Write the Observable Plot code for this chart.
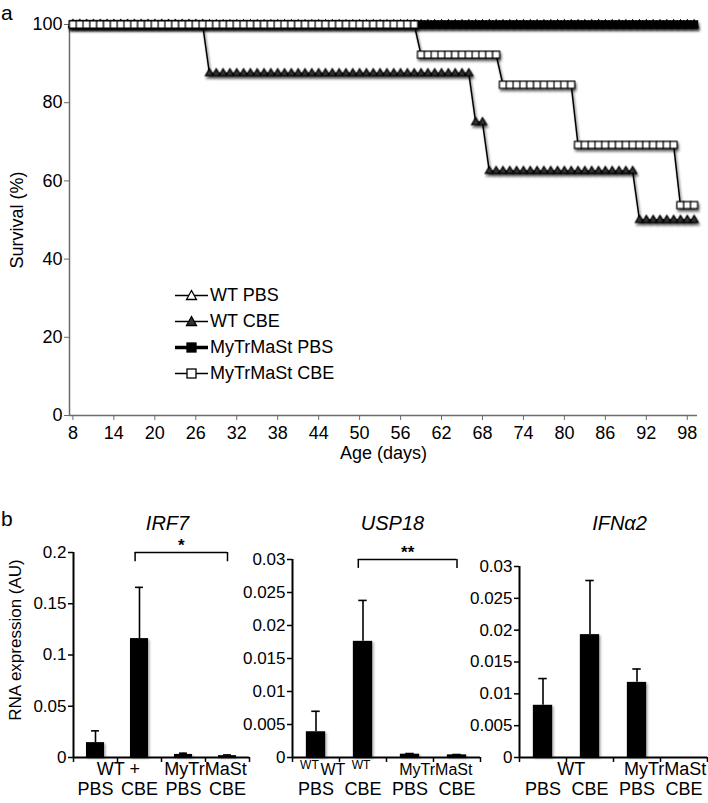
<!DOCTYPE html>
<html><head><meta charset="utf-8">
<script src="https://cdn.jsdelivr.net/npm/d3@7"></script>
<script src="https://cdn.jsdelivr.net/npm/@observablehq/plot@0.6"></script>
<style>
html,body{margin:0;padding:0;background:#fff;}
#root{position:relative;width:708px;height:803px;overflow:hidden;font-family:"Liberation Sans",Arial,Helvetica,sans-serif;color:#000;}
.abs{position:absolute;white-space:nowrap;}
</style></head><body><div id="root"></div>
<script>
const FONT = '"Liberation Sans", Arial, Helvetica, sans-serif';

// ---------- Panel a data ----------
const days = [
  8,9,10,11,12,13,14,15,16,17,
  18,19,20,21,22,23,24,25,26,27,
  28,29,30,31,32,33,34,35,36,37,
  38,39,40,41,42,43,44,45,46,47,
  48,49,50,51,52,53,54,55,56,57,
  58,59,60,61,62,63,64,65,66,67,
  68,69,70,71,72,73,74,75,76,77,
  78,79,80,81,82,83,84,85,86,87,
  88,89,90,91,92,93,94,95,96,97,
  98,99];
const wtPbs = [
  100,100,100,100,100,100,100,100,100,100,
  100,100,100,100,100,100,100,100,100,100,
  100,100,100,100,100,100,100,100,100,100,
  100,100,100,100,100,100,100,100,100,100,
  100,100,100,100,100,100,100,100,100,100,
  100,100,100,100,100,100,100,100,100,100,
  100,100,100,100,100,100,100,100,100,100,
  100,100,100,100,100,100,100,100,100,100,
  100,100,100,100,100,100,100,100,100,100,
  100,100];
const wtCbe = [
  100,100,100,100,100,100,100,100,100,100,
  100,100,100,100,100,100,100,100,100,100,
  87.5,87.5,87.5,87.5,87.5,87.5,87.5,87.5,87.5,87.5,
  87.5,87.5,87.5,87.5,87.5,87.5,87.5,87.5,87.5,87.5,
  87.5,87.5,87.5,87.5,87.5,87.5,87.5,87.5,87.5,87.5,
  87.5,87.5,87.5,87.5,87.5,87.5,87.5,87.5,87.5,75,
  75,62.5,62.5,62.5,62.5,62.5,62.5,62.5,62.5,62.5,
  62.5,62.5,62.5,62.5,62.5,62.5,62.5,62.5,62.5,62.5,
  62.5,62.5,62.5,50,50,50,50,50,50,50,
  50,50];
const mytrPbs = [
  100,100,100,100,100,100,100,100,100,100,
  100,100,100,100,100,100,100,100,100,100,
  100,100,100,100,100,100,100,100,100,100,
  100,100,100,100,100,100,100,100,100,100,
  100,100,100,100,100,100,100,100,100,100,
  100,100,100,100,100,100,100,100,100,100,
  100,100,100,100,100,100,100,100,100,100,
  100,100,100,100,100,100,100,100,100,100,
  100,100,100,100,100,100,100,100,100,100,
  100,100];
const mytrCbe = [
  100,100,100,100,100,100,100,100,100,100,
  100,100,100,100,100,100,100,100,100,100,
  100,100,100,100,100,100,100,100,100,100,
  100,100,100,100,100,100,100,100,100,100,
  100,100,100,100,100,100,100,100,100,100,
  100,92.3,92.3,92.3,92.3,92.3,92.3,92.3,92.3,92.3,
  92.3,92.3,92.3,84.6,84.6,84.6,84.6,84.6,84.6,84.6,
  84.6,84.6,84.6,84.6,69.2,69.2,69.2,69.2,69.2,69.2,
  69.2,69.2,69.2,69.2,69.2,69.2,69.2,69.2,69.2,53.8,
  53.8,53.8];
const survivalTicksY = [0, 20, 40, 60, 80, 100];
const ageTicksX = [8,14,20,26,32,38,44,50,56,62,68,74,80,86,92,98];
const legendLabels = ["WT PBS", "WT CBE", "MyTrMaSt PBS", "MyTrMaSt CBE"];

// ---------- Panel b data ----------
const bCategories = ["WT PBS", "WT CBE", "MyTrMaSt PBS", "MyTrMaSt CBE"];
const bTreatLabels = ["PBS", "CBE", "PBS", "CBE"];
const irf7Mean = [0.0145, 0.116, 0.003, 0.0018];
const irf7Err  = [0.0115, 0.050, 0.0012, 0.0007];
const usp18Mean = [0.0039, 0.0176, 0.0005, 0.0004];
const usp18Err  = [0.0031, 0.0062, 0.0001, 0.00005];
const ifnMean = [0.0082, 0.0193, 0.0118, 0];
const ifnErr  = [0.0042, 0.0085, 0.0021, 0];
const irf7Ticks = [0, 0.05, 0.1, 0.15, 0.2];
const smallTicks = [0, 0.005, 0.01, 0.015, 0.02, 0.025, 0.03];
const boundaryTicks = [-0.5, 0.5, 1.5, 2.5, 3.5];

const root = document.getElementById("root");

function place(svg, left, top) {
  svg.style.position = "absolute";
  svg.style.left = left + "px";
  svg.style.top = top + "px";
  svg.style.overflow = "visible";
  root.appendChild(svg);
}
function addShadow(svg, selector, id, w, h, dx, dy, sd, op) {
  const ns = "http://www.w3.org/2000/svg";
  const defs = document.createElementNS(ns, "defs");
  defs.innerHTML = `<filter id="${id}" filterUnits="userSpaceOnUse" x="0" y="0" width="${w}" height="${h}"><feDropShadow dx="${dx}" dy="${dy}" stdDeviation="${sd}" flood-color="#000" flood-opacity="${op}"/></filter>`;
  svg.insertBefore(defs, svg.firstChild);
  svg.querySelectorAll(selector).forEach(g => g.setAttribute("filter", `url(#${id})`));
}

// ---------- Panel a ----------
const seriesDefs = [
  {name: legendLabels[0], values: wtPbs, symbol: "triangle", fill: "white", r: 3},
  {name: legendLabels[1], values: wtCbe, symbol: "triangle", fill: "#333", r: 3},
  {name: legendLabels[2], values: mytrPbs, symbol: "square", fill: "black", r: 4},
  {name: legendLabels[3], values: mytrCbe, symbol: "square", fill: "white", r: 4}
];
const seriesMarks = [];
for (const s of seriesDefs) {
  const rows = days.map((d, i) => ({day: d, value: s.values[i]}));
  seriesMarks.push(Plot.line(rows, {x: "day", y: "value", stroke: "black", strokeWidth: 1.5}));
  seriesMarks.push(Plot.dot(rows, {x: "day", y: "value", symbol: s.symbol, r: s.r, fill: s.fill, stroke: "black", strokeWidth: 1.2}));
}
const svgA = Plot.plot({
  width: 708, height: 480,
  marginLeft: 69, marginRight: 11, marginTop: 24, marginBottom: 65,
  x: {domain: [7.5, 99.5]},
  y: {domain: [0, 100]},
  style: {fontFamily: FONT, color: "black", background: "white"},
  marks: [
    Plot.ruleX([7.5], {stroke: "#6b6b6b", strokeWidth: 1.5}),
    Plot.ruleY([0], {stroke: "#6b6b6b", strokeWidth: 1.5}),
    Plot.axisY({ticks: survivalTicksY, tickSize: 5, tickPadding: 2, label: null, fontSize: 18, stroke: "#6b6b6b", fill: "black"}),
    Plot.axisX({ticks: ageTicksX, tickSize: 5, tickPadding: 6, label: null, fontSize: 18, stroke: "#6b6b6b", fill: "black"}),
    ...seriesMarks,
    Plot.text(["Survival (%)"], {text: d => d, frameAnchor: "left", textAnchor: "middle", rotate: -90, dx: -52, fontSize: 18}),
    Plot.text(["Age (days)"], {text: d => d, frameAnchor: "bottom", textAnchor: "middle", dy: 43, fontSize: 18})
  ]
});
addShadow(svgA, 'g[aria-label="dot"], g[aria-label="line"]', "shA", 708, 480, 1.2, 2.5, 1.3, 0.6);
place(svgA, 0, 0);

// legend (HTML)
const legend = document.createElement("div");
legend.className = "abs";
legend.style.left = "175px";
legend.style.top = "282px";
seriesDefs.forEach((s, i) => {
  const row = document.createElement("div");
  row.style.height = "26px";
  row.style.display = "flex";
  row.style.alignItems = "center";
  const sym = s.symbol === "square"
    ? `<rect x="12" y="6" width="9" height="9" fill="${s.fill}" stroke="black" stroke-width="1.3"/>`
    : `<path d="M16.5,5.5 L21.5,14.5 L11.5,14.5 Z" fill="${s.fill}" stroke="black" stroke-width="1.3"/>`;
  const lw = s.fill === "black" && s.symbol === "square" ? 3.5 : 1.5;
  row.innerHTML = `<svg width="34" height="20" style="display:block"><line x1="0" y1="10.5" x2="33" y2="10.5" stroke="black" stroke-width="${lw}"/>${sym}</svg><span style="font-size:18px;margin-left:1px;line-height:26px">${s.name}</span>`;
  legend.appendChild(row);
});
root.appendChild(legend);

// ---------- Panel b ----------
function barPanel(o) {
  const rows = bCategories.map((c, i) => ({i, cat: c, mean: o.mean[i], err: o.err[i], top: o.mean[i] + o.err[i], treat: bTreatLabels[i]}));
  const errRows = rows.filter(d => d.err > 0);
  const marks = [
    Plot.rectY(rows, {x1: d => d.i - 0.205, x2: d => d.i + 0.205, y: "mean", fill: "black"}),
    Plot.ruleX(errRows, {x: "i", y1: "mean", y2: "top", stroke: "black", strokeWidth: 1.6}),
    Plot.ruleY(errRows, {y: "top", x1: d => d.i - 0.09, x2: d => d.i + 0.09, stroke: "black", strokeWidth: 1.6}),
    Plot.ruleX([-0.5], {stroke: "black", strokeWidth: 2}),
    Plot.ruleY([0], {stroke: "black", strokeWidth: 2}),
    Plot.axisY({ticks: o.yTicks, tickSize: 5, tickPadding: 2, tickFormat: d => String(d), fontSize: 17, label: null, stroke: "black", strokeWidth: 1.5, fill: "black"}),
    Plot.axisX({ticks: boundaryTicks, tickSize: 5, tickFormat: () => "", label: null, stroke: "black", strokeWidth: 1.5}),
    Plot.text(rows, {x: "i", text: "treat", frameAnchor: "bottom", dy: 37, fontSize: 18}),
    Plot.text(o.groups, {x: "x", text: "text", frameAnchor: "bottom", dy: 17, fontSize: o.groupSize || 18}),
    Plot.text([o.title], {x: 1.5, text: d => d, frameAnchor: "top", dx: 6, dy: 15 - o.mt, fontSize: 20, fontStyle: "italic"})
  ];
  if (o.small) marks.push(Plot.text(o.small, {x: "x", text: "text", frameAnchor: "bottom", dy: 11, fontSize: 12}));
  if (o.sig) {
    const b = [{x1: 0.9, x2: 3, y: o.yMax}];
    marks.push(Plot.ruleY(b, {x1: "x1", x2: "x2", y: "y", stroke: "black", strokeWidth: 1.5}));
    marks.push(Plot.ruleX([0.9, 3], {x: d => d, y1: o.yMax, y2: o.yMax * 0.955, stroke: "black", strokeWidth: 1.5}));
    marks.push(Plot.text([o.sig], {x: 1.95, y: o.yMax, text: d => d, dy: -7, fontSize: 17, fontWeight: "bold"}));
  }
  if (o.ylabel) marks.push(Plot.text([o.ylabel], {text: d => d, frameAnchor: "left", textAnchor: "middle", rotate: -90, dx: 15 - o.ml, dy: -15, fontSize: 17}));
  const svg = Plot.plot({
    width: o.width, height: 303,
    marginLeft: o.ml, marginRight: o.mr, marginTop: o.mt, marginBottom: 46,
    x: {domain: [-0.5, 3.5]},
    y: {domain: [0, o.yMax]},
    style: {background: "transparent", fontFamily: FONT, color: "black"},
    marks
  });
  addShadow(svg, 'g[aria-label="rect"]', "shB" + o.id, o.width, 303, 1.5, 1.5, 1.2, 0.35);
  place(svg, o.left, 500);
}

barPanel({id: 1, title: "IRF7", mean: irf7Mean, err: irf7Err, yTicks: irf7Ticks, yMax: 0.2,
  left: 0, width: 252, ml: 73, mr: 3, mt: 52, sig: "*", ylabel: "RNA expression (AU)",
  groups: [{x: 0.52, text: "WT +"}, {x: 2.5, text: "MyTrMaSt"}]});
barPanel({id: 2, title: "USP18", mean: usp18Mean, err: usp18Err, yTicks: smallTicks, yMax: 0.03,
  left: 220, width: 262, ml: 72, mr: 2, mt: 59, sig: "**", groupSize: 16,
  groups: [{x: 0.36, text: "WT"}, {x: 2.55, text: "MyTrMaSt"}],
  small: [{x: -0.14, text: "WT"}, {x: 0.96, text: "WT"}]});
barPanel({id: 3, title: "IFNα2", mean: ifnMean, err: ifnErr, yTicks: smallTicks, yMax: 0.03,
  left: 446, width: 262, ml: 73, mr: 1, mt: 66,
  groups: [{x: 0.6, text: "WT"}, {x: 2.6, text: "MyTrMaSt"}]});

// panel letters
for (const [t, x, y] of [["a", 1, 1], ["b", 1, 507]]) {
  const el = document.createElement("div");
  el.className = "abs";
  el.textContent = t;
  el.style.left = x + "px"; el.style.top = y + "px";
  el.style.fontSize = "21px";
  el.style.lineHeight = "normal";
  root.appendChild(el);
}
</script></body></html>
